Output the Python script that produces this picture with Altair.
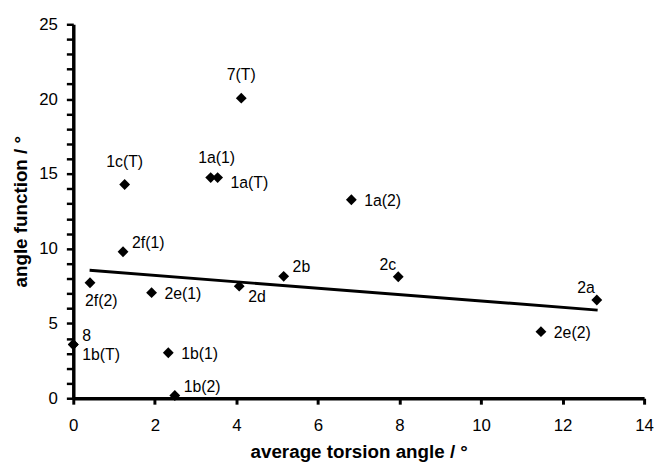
import altair as alt
import pandas as pd

# ---- data ----
labels = ["7(T)", "1c(T)", "1a(1)", "1a(T)", "1a(2)", "2f(1)", "2f(2)", "2e(1)",
          "2d", "2b", "8", "1b(T)", "1b(1)", "1b(2)", "2c", "2a", "2e(2)"]
torsion = [4.12, 1.26, 3.37, 3.54, 6.82, 1.22, 0.41, 1.92,
           4.07, 5.16, 0.0, 0.0, 2.33, 2.49, 7.97, 12.84, 11.47]
angle_fn = [20.06, 14.29, 14.75, 14.75, 13.27, 9.79, 7.72, 7.06,
            7.49, 8.15, 3.59, 3.59, 3.04, 0.18, 8.12, 6.57, 4.45]
# label placement group (categorical)
label_pos = ["above", "above", "above_r", "right_low", "right", "upright", "below", "right",
             "downright", "upright", "upright", "downright", "right", "upright", "upleft", "upleft", "right"]

trend_x = [0.40, 12.86]
trend_y = [8.55, 5.89]

x_ticks = [0, 2, 4, 6, 8, 10, 12, 14]
y_ticks = list(range(0, 26))

df = pd.DataFrame({"label": labels, "x": torsion, "y": angle_fn, "pos": label_pos})
trend = pd.DataFrame({"x": trend_x, "y": trend_y})

FONT = "Liberation Sans"

xs = alt.Scale(domain=[0, 14], nice=False, zero=False)
ys = alt.Scale(domain=[0, 25], nice=False, zero=False)

x_axis = alt.Axis(title="average torsion angle / °", values=x_ticks,
                  tickWidth=3, tickSize=6, labelPadding=14, titlePadding=9)
y_axis = alt.Axis(title="angle function / °", values=y_ticks,
                  labelExpr="datum.value % 5 == 0 ? datum.label : ''",
                  tickWidth=2.5, tickSize=7, labelPadding=9, titlePadding=8)

X = alt.X("x:Q", scale=xs, axis=x_axis)
Y = alt.Y("y:Q", scale=ys, axis=y_axis)

base = alt.Chart(df)

points = base.mark_point(shape="diamond", filled=True, color="black", size=120, opacity=1).encode(
    x=X, y=Y,
)

line = alt.Chart(trend).mark_line(color="black", strokeWidth=3).encode(x=X, y=Y)

groups = {
    "above": dict(align="center", dx=0, dy=-23),
    "above_r": dict(align="center", dx=6, dy=-20),
    "right": dict(align="left", dx=13, dy=1),
    "right_low": dict(align="left", dx=13, dy=6),
    "upright": dict(align="left", dx=9, dy=-9),
    "downright": dict(align="left", dx=9, dy=11),
    "below": dict(align="left", dx=-5, dy=18),
    "upleft": dict(align="right", dx=-2, dy=-12),
}

text_layers = []
for g, opts in groups.items():
    text_layers.append(
        base.transform_filter(alt.datum.pos == g).mark_text(
            font=FONT, fontSize=16, color="black", baseline="middle", **opts
        ).encode(x=X, y=Y, text="label:N")
    )

chart = alt.layer(line, points, *text_layers).properties(
    width=577, height=378,
    autosize=alt.AutoSizeParams(type="none"),
    padding={"left": 66, "top": 14, "right": 10, "bottom": 62},
    background="white",
).configure_view(stroke=None).configure_axis(
    grid=False, domainColor="black", domainWidth=3.5, tickColor="black",
    labelFontSize=17, labelFont=FONT, labelColor="black",
    titleFont=FONT, titleFontSize=19, titleFontWeight="bold", titleColor="black",
    labelFlush=False, labelOverlap=False,
)

chart.save("out.html", embed_options={"renderer": "svg", "actions": False})
